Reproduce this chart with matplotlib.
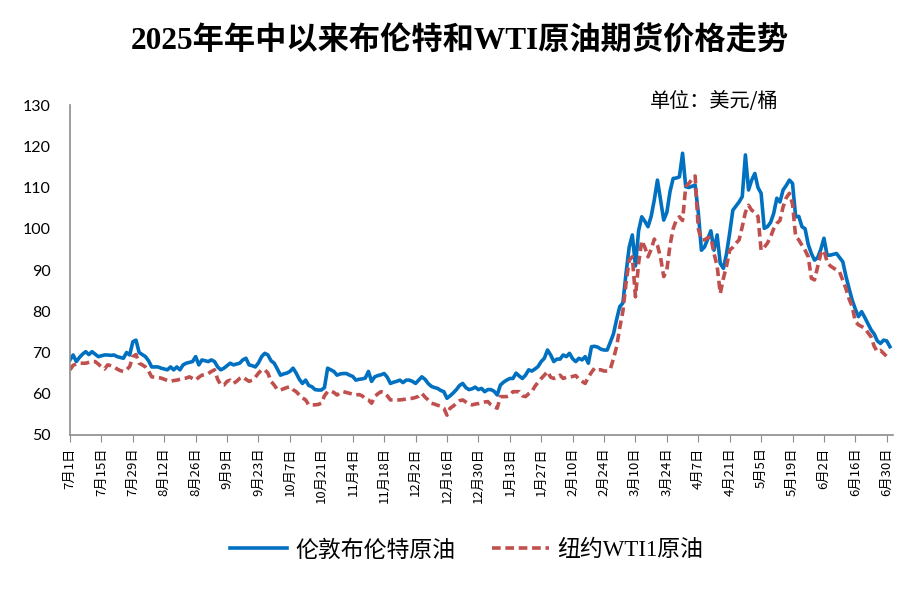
import matplotlib
matplotlib.use("Agg")
import matplotlib.pyplot as plt
import numpy as np

plt.rcParams["font.family"] = ["Noto Sans CJK SC", "DejaVu Sans"]
SERIF_CJK = ["Liberation Serif", "Noto Sans CJK SC"]

# 交易日序列（2025/7/1 起，每 10 个交易日约两周）
brent = [
    68.2, 69.4, 67.8, 68.8, 69.6, 70.2, 69.5, 70.2, 69.6, 69.0,
    69.2, 69.4, 69.4, 69.3, 69.4, 69.0, 68.8, 68.6, 70.0, 69.4,
    72.6, 73.0, 70.0, 69.5, 69.0, 68.0, 66.5, 66.5, 66.5, 66.2,
    66.0, 65.8, 66.5, 65.8, 66.5, 65.8, 67.0, 67.4, 67.6, 67.8,
    69.0, 67.0, 68.2, 68.0, 67.8, 68.2, 67.8, 66.5, 65.8, 66.2,
    66.8, 67.4, 67.0, 67.2, 67.4, 68.2, 68.6, 67.0, 66.8, 66.5,
    67.5, 69.0, 69.8, 69.4, 68.0, 67.4, 66.0, 64.5, 64.8, 65.0,
    65.4, 66.2, 65.0, 63.5, 62.5, 63.3, 62.0, 61.7, 61.0, 60.9,
    60.9, 61.5, 66.2, 65.8, 65.4, 64.5, 64.8, 64.9, 64.9, 64.5,
    64.2, 63.3, 63.5, 63.6, 63.8, 65.4, 63.0, 64.1, 64.4, 64.6,
    64.9, 64.0, 62.5, 62.8, 63.0, 63.3, 62.7, 63.3, 63.3, 63.0,
    62.5, 63.3, 64.1, 63.5, 62.5, 61.8, 61.5, 61.3, 60.8, 60.5,
    58.9, 59.5, 60.2, 61.0, 62.0, 62.5, 61.5, 61.0, 61.2, 61.6,
    61.0, 61.3, 60.5, 61.0, 61.0, 60.6, 59.7, 62.1, 62.8, 63.3,
    63.7, 63.7, 65.0, 64.3, 63.7, 64.5, 65.8, 65.5, 66.0, 66.6,
    67.8, 68.6, 70.6, 69.4, 67.8, 68.4, 68.4, 69.4, 69.0, 69.8,
    68.5, 67.8, 68.6, 68.2, 69.0, 67.4, 71.4, 71.5, 71.3, 70.8,
    70.6, 70.6, 72.5, 74.5, 78.0, 81.1, 82.0, 89.2, 95.5, 98.5,
    91.0, 99.5, 102.9, 101.8, 100.5, 103.0, 107.0, 111.8, 107.0, 102.1,
    104.0, 109.0, 112.2, 112.3, 112.6, 118.3, 110.2, 110.0, 110.3, 110.6,
    104.0, 94.8, 95.6, 97.5, 99.5, 94.8, 98.5, 91.6, 90.4, 94.0,
    99.0, 104.5, 105.5, 106.5, 107.8, 117.9, 109.4, 111.8, 113.4, 110.0,
    108.6, 100.1, 100.5, 101.5, 103.7, 107.4, 106.5, 109.4, 110.5, 111.8,
    111.0, 102.9, 103.0, 100.5, 100.0, 96.2, 94.0, 92.4, 93.0, 95.0,
    97.7, 93.6, 93.6, 93.8, 94.0, 93.0, 92.0, 88.5, 85.5, 82.7,
    80.5, 78.7, 79.9, 78.5, 77.0, 75.5, 74.5, 72.8, 72.2, 73.0,
    72.8, 71.4,
]

wti = [
    65.8, 66.9, 67.2, 67.4, 67.4, 67.4, 67.6, 67.8, 67.8, 67.2,
    66.5, 66.0, 67.0, 66.8, 66.5, 66.0, 65.6, 65.4, 65.8, 66.6,
    69.0, 69.5, 67.4, 67.0, 66.5, 65.5, 64.1, 64.0, 63.9, 63.8,
    63.5, 63.2, 63.0, 63.2, 63.3, 63.5, 63.7, 63.8, 64.1, 63.7,
    63.3, 64.0, 64.5, 64.6, 64.9, 65.4, 65.8, 63.5, 62.1, 62.1,
    63.0, 63.3, 62.5, 63.0, 63.7, 64.1, 63.5, 63.0, 63.3, 64.0,
    65.0, 65.8, 65.8, 65.0, 63.0, 62.1, 61.0, 60.9, 61.2, 61.5,
    61.7, 61.0, 60.5, 59.7, 59.0, 58.5, 57.3, 57.3, 57.3, 57.4,
    57.7, 59.5, 60.5, 60.7, 60.3, 59.7, 60.2, 60.5, 60.3, 60.1,
    59.9, 59.7, 59.8, 59.5, 58.8, 58.5, 57.7, 59.3, 60.0, 60.5,
    60.3, 59.5, 58.5, 58.5, 58.5, 58.5, 58.6, 58.7, 58.8, 58.9,
    59.1, 59.4, 60.1, 59.2, 58.5, 57.7, 57.5, 57.2, 57.0, 56.5,
    54.8, 56.5, 57.0, 57.7, 58.3, 58.5, 58.0, 57.5, 57.3, 57.5,
    57.6, 57.8, 58.0, 58.1, 57.3, 56.8, 56.5, 59.3, 59.3, 59.3,
    59.6, 60.5, 60.5, 60.5, 59.5, 59.3, 60.0, 60.5, 61.8, 62.8,
    63.7, 64.5, 65.4, 64.0, 63.7, 63.9, 64.5, 63.7, 64.0, 64.0,
    64.2, 64.4, 63.5, 63.0, 62.5, 64.0, 65.2, 66.2, 65.8, 65.8,
    65.5, 65.5, 66.0, 68.5, 71.4, 76.0, 80.0, 86.8, 92.4, 93.2,
    83.5, 91.6, 97.1, 95.5, 93.2, 95.0, 97.5, 96.0, 93.0, 88.4,
    90.0, 96.0, 100.0, 102.1, 102.9, 102.0, 110.2, 111.0, 112.0, 112.8,
    100.0, 97.3, 97.3, 97.8, 98.0, 94.0, 91.0, 84.3, 88.0, 91.0,
    94.8, 95.5, 96.5, 97.3, 100.5, 104.0, 105.7, 104.5, 104.0, 103.0,
    94.8, 95.5, 96.5, 98.0, 100.0, 101.3, 102.0, 105.3, 107.5, 108.6,
    106.0, 98.0, 97.3, 96.0, 94.8, 93.2, 88.0, 87.6, 90.8, 94.0,
    94.8, 92.0, 91.0, 90.5, 90.0, 89.5, 87.5, 85.5, 83.0, 81.1,
    77.5, 76.7, 76.3, 75.9, 74.8, 73.8, 71.5, 70.2, 70.5, 69.8,
    69.0, 68.6,
]

tick_labels = [
    "7月1日", "7月15日", "7月29日", "8月12日", "8月26日", "9月9日", "9月23日",
    "10月7日", "10月21日", "11月4日", "11月18日", "12月2日", "12月16日",
    "12月30日", "1月13日", "1月27日", "2月10日", "2月24日", "3月10日",
    "3月24日", "4月7日", "4月21日", "5月5日", "5月19日", "6月2日",
    "6月16日", "6月30日",
]

x = np.arange(len(brent))

fig = plt.figure(figsize=(9.2, 5.94), dpi=100)
ax = fig.add_axes([0.0761, 0.2677, 0.8946, 0.5555])

ax.plot(x, brent, color="#0070C0", lw=2.6, label="伦敦布伦特原油",
        solid_joinstyle="round")
ax.plot(x, wti, color="#C0504D", lw=2.6, ls=(0, (2.4, 1.3)),
        label="纽约WTI1原油", dash_capstyle="butt")

ax.set_ylim(50, 130)
ax.set_yticks(range(50, 131, 10))
ax.set_xlim(0, 262)
ax.set_xticks(range(0, 261, 10))
ax.set_xticklabels(tick_labels, rotation=90, fontsize=9.5)

for s in ["top", "right"]:
    ax.spines[s].set_visible(False)
for s in ["left", "bottom"]:
    ax.spines[s].set_color("#8c8c8c")
    ax.spines[s].set_linewidth(1.2)
ax.tick_params(axis="y", length=0, pad=14, labelsize=11.5)
ax.tick_params(axis="x", length=5, color="#8c8c8c", direction="out", pad=4)
for lab in ax.get_yticklabels():
    lab.set_family(["Lato", "DejaVu Sans"])

fig.text(0.5, 0.932, "2025年年中以来布伦特和WTI原油期货价格走势",
         ha="center", va="center", fontsize=22.5, fontweight="bold",
         family=SERIF_CJK)
ax.text(0.704, 1.01, "单位：美元/桶", transform=ax.transAxes,
        ha="left", va="center", fontsize=14.5)

fig.legend(loc="center", bbox_to_anchor=(0.507, 0.073), ncol=2, frameon=False,
           prop={"family": SERIF_CJK, "size": 16.5},
           handlelength=2.5, columnspacing=1.6, handletextpad=0.35)

fig.savefig("out.png", dpi=100)
